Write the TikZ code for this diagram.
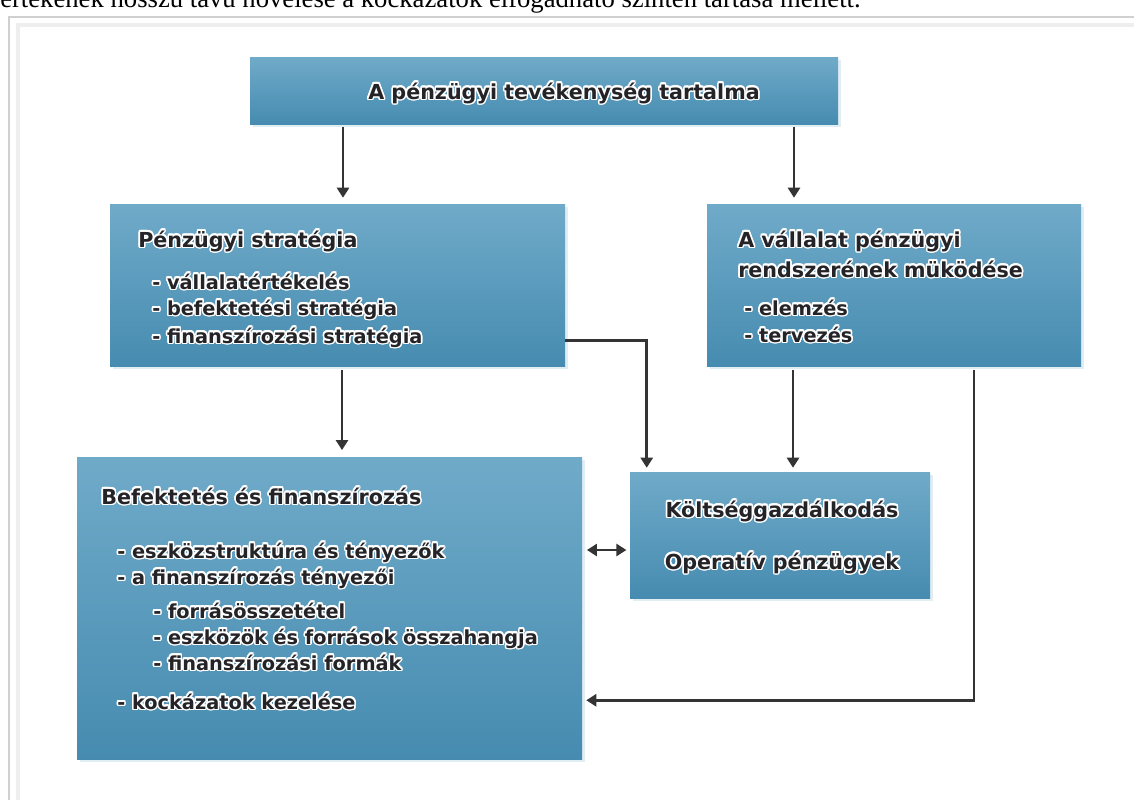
\documentclass[tikz,border=0pt]{standalone}
\usepackage{fontspec}
\setmainfont{DejaVu Sans}
\newfontfamily\notefont{Liberation Serif}
\usepackage[copies]{contour}
\contourlength{1.1pt}
\contournumber{16}
\usetikzlibrary{arrows.meta,calc,shadows}

\definecolor{boxtop}{RGB}{112,170,201}
\definecolor{boxmid}{RGB}{84,152,186}
\definecolor{boxbot}{RGB}{70,140,176}
\definecolor{ink}{RGB}{36,36,40}
\definecolor{wire}{RGB}{52,52,52}
\definecolor{framegray}{RGB}{208,208,208}
\definecolor{framelight}{RGB}{238,238,238}

% dark lettering with a white outline glow
\newcommand{\halo}[1]{\contour{white}{#1}}

\tikzset{
  panel/.style={draw=none, top color=boxtop, middle color=boxmid, bottom color=boxbot, inner sep=0pt,
    drop shadow={shadow xshift=2pt, shadow yshift=-2.5pt, fill=boxtop!30, opacity=0.7}},
  headtext/.style={text=ink, inner sep=0pt, anchor=base west,
    font=\bfseries\fontsize{15.5}{18}\selectfont},
  itemtext/.style={text=ink, inner sep=0pt, anchor=base west,
    font=\bfseries\fontsize{14.5}{17}\selectfont},
  tip/.tip={Triangle[width=9pt,length=7.5pt]},
  arr/.style={draw=wire, line width=2pt, -tip},
  darr/.style={draw=wire, line width=2pt, tip-tip},
}

\begin{document}
\begin{tikzpicture}[x=0.75pt,y=-0.75pt]
\useasboundingbox (0,0) rectangle (1134,800);
\fill[white] (0,0) rectangle (1134,800);

% leftover line of running text above the figure frame
\begin{scope}
  \clip (0,0) rectangle (1134,15);
  \node[anchor=base west, inner sep=0pt, text=black, font=\notefont\fontsize{20}{22}\selectfont]
    (note) at (0,7) {értékének hosszú távú növelése a kockázatok elfogadható szinten tartása mellett.};
\end{scope}

% figure frame
\draw[framelight, line width=3pt] (18,800) -- (18,25) -- (1134,25);
\draw[framegray, line width=1.6pt] (9,800) -- (9,17) -- (1134,17);

% panels
\node[panel, minimum width=441pt, minimum height=50.25pt] (top) at (544,90.5) {};
\node[panel, minimum width=341.25pt, minimum height=121.5pt] (ps) at (337.5,285) {};
\node[panel, minimum width=280.5pt, minimum height=121.5pt] (rb) at (894,285) {};
\node[panel, minimum width=378.75pt, minimum height=226.5pt] (bf) at (329.5,608) {};
\node[panel, minimum width=225pt, minimum height=94.5pt] (ko) at (780,535) {};

% panel texts
\node[headtext] (topT) at (368,99) {\halo{A pénzügyi tevékenység tartalma}};

\node[headtext] (psT) at (138,247) {\halo{Pénzügyi stratégia}};
\node[itemtext] (ps1) at (152,289) {\halo{- vállalatértékelés}};
\node[itemtext] (ps2) at (152,315) {\halo{- befektetési stratégia}};
\node[itemtext] (ps3) at (152,343) {\halo{- finanszírozási stratégia}};

\node[headtext] (rbT1) at (738,247) {\halo{A vállalat pénzügyi}};
\node[headtext] (rbT2) at (738,277) {\halo{rendszerének müködése}};
\node[itemtext] (rb1) at (744,315) {\halo{- elemzés}};
\node[itemtext] (rb2) at (744,342) {\halo{- tervezés}};

\node[headtext] (bfT) at (101,504) {\halo{Befektetés és finanszírozás}};
\node[itemtext] (bf1) at (117,558) {\halo{- eszközstruktúra és tényezők}};
\node[itemtext] (bf2) at (117,584) {\halo{- a finanszírozás tényezői}};
\node[itemtext] (bf3) at (153,618) {\halo{- forrásösszetétel}};
\node[itemtext] (bf4) at (153,644) {\halo{- eszközök és források összahangja}};
\node[itemtext] (bf5) at (153,670) {\halo{- finanszírozási formák}};
\node[itemtext] (bf6) at (117,709) {\halo{- kockázatok kezelése}};

\node[headtext, anchor=base] (koT1) at (782,517) {\halo{Költséggazdálkodás}};
\node[headtext, anchor=base] (koT2) at (782,569) {\halo{Operatív pénzügyek}};

% connector anchor points
\coordinate (psx) at ($(ps.north)+(5.5,0)$);
\coordinate (rbx) at ($(rb.north)+(-100,0)$);
\coordinate (psbx) at ($(ps.south)+(4.5,0)$);
\coordinate (pse) at ($(ps.south east)+(0,-26)$);
\coordinate (kox) at ($(ko.north west)+(17,0)$);
\coordinate (rbkx) at ($(rb.south)+(-101,0)$);
\coordinate (rbr) at ($(rb.south)+(80,0)$);
\coordinate (bfk) at ($(bf.south east)+(0,-59)$);
\coordinate (bfm) at ($(bf.east)+(0,-58)$);

% connectors
\draw[arr, shorten <=2pt, shorten >=4.5pt] (psx |- top.south) -- (psx);
\draw[arr, shorten <=2pt, shorten >=4.5pt] (rbx |- top.south) -- (rbx);
\draw[arr, shorten <=3pt, shorten >=5pt] (psbx) -- (psbx |- bf.north);
\draw[arr, shorten >=3pt] (pse) -- (pse -| kox) -- (kox);
\draw[arr, shorten <=3pt, shorten >=3pt] (rbkx) -- (rbkx |- ko.north);
\draw[arr, shorten <=3pt, shorten >=3pt] (rbr) -- (rbr |- bfk) -- (bfk);
\draw[darr, shorten <=3.5pt, shorten >=2.5pt] (bfm) -- (bfm -| ko.west);
\end{tikzpicture}
\end{document}
